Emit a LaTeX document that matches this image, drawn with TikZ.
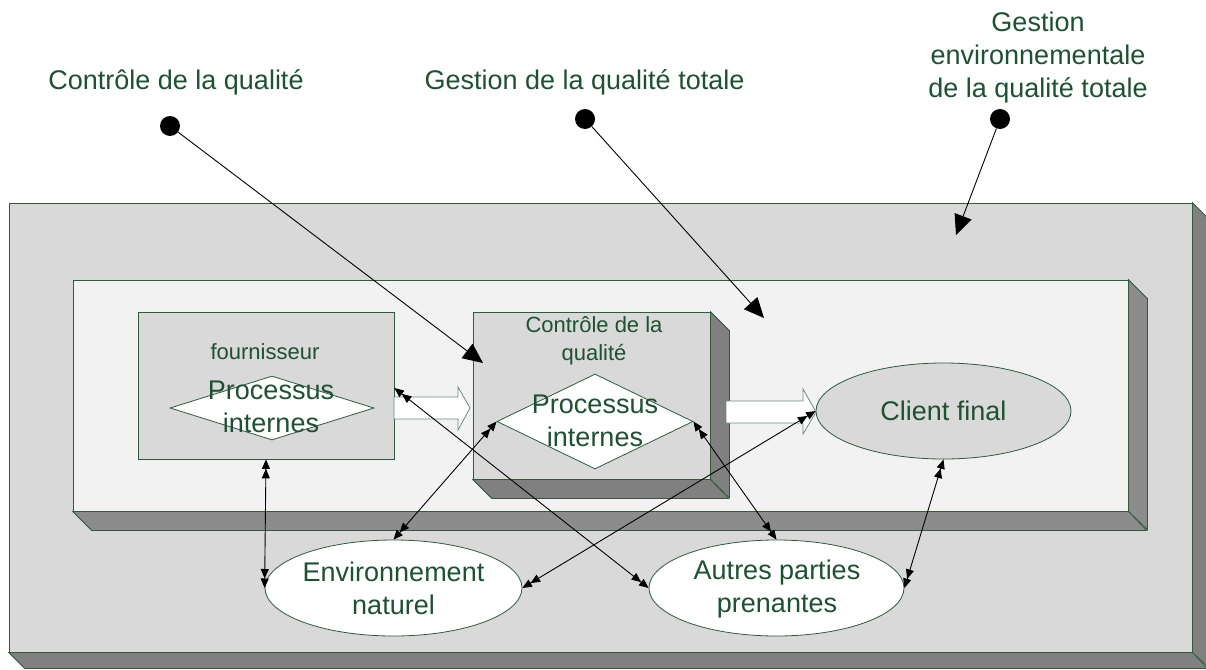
\documentclass[tikz,border=0pt]{standalone}
\usepackage{fontspec}
\setmainfont{Liberation Sans}
\usetikzlibrary{shapes.geometric,arrows.meta}
\definecolor{txt}{HTML}{1E5032}
\definecolor{edge}{HTML}{2F5A3C}
\definecolor{front}{HTML}{D9D9D9}
\definecolor{pale}{HTML}{F2F2F2}
\definecolor{sideA}{HTML}{808080}
\definecolor{sideB}{HTML}{8C8C8C}
\tikzset{
  dtip/.tip={Triangle[length=9.5pt,width=8pt]Triangle[length=9.5pt,width=8pt]},
  bigtip/.tip={Triangle[length=20pt,width=18pt]},
  face/.style={draw=edge, line width=0.8pt, inner sep=0pt, rectangle},
  sideface/.style={draw=edge, line width=0.8pt},
  lbl/.style={text=txt, font=\fontsize{27}{33}\selectfont, align=center, inner sep=0pt},
  smalllbl/.style={text=txt, font=\fontsize{22}{28}\selectfont, align=center, inner sep=0pt},
  oval/.style={ellipse, draw=edge, line width=0.8pt, inner sep=0pt},
  rhomb/.style={diamond, draw=edge, line width=0.8pt, fill=white, inner sep=0pt},
  blockarrow/.style={draw=edge!70, fill=white, line width=0.8pt},
  link/.style={line width=0.9pt, arrows={dtip-dtip}},
  pointer/.style={line width=0.9pt, arrows={-bigtip}},
  dot/.style={circle, fill=black, minimum size=20pt, inner sep=0pt}
}
\begin{document}
\begin{tikzpicture}[x=1pt,y=-1pt]
\useasboundingbox (0,0) rectangle (1206,669);
\clip (0,0) rectangle (1206,669);

% outer box
\node[face, fill=front, minimum width=1183pt, minimum height=449pt] (outer) at (600.5,427.5) {};
\filldraw[sideface, fill=sideA] (outer.north east) -- ++(16,16) -- ++(0,449) -- (outer.south east) -- cycle;
\filldraw[sideface, fill=sideA] (outer.south west) -- ++(16,16) -- ++(1183,0) -- (outer.south east) -- cycle;

% inner box
\node[face, fill=pale, minimum width=1055pt, minimum height=231pt] (inner) at (600.5,395.5) {};
\filldraw[sideface, fill=sideB] (inner.north east) -- ++(19,19) -- ++(0,231) -- (inner.south east) -- cycle;
\filldraw[sideface, fill=sideB] (inner.south west) -- ++(19,19) -- ++(1055,0) -- (inner.south east) -- cycle;

% fournisseur box
\node[face, fill=front, minimum width=256pt, minimum height=147pt] (four) at (266,385.5) {};
\node[rhomb, minimum width=204pt, minimum height=64pt] (fourdia) at (272,408) {};
\node[smalllbl] (fourlbl) at (265,352) {fournisseur};
\node[lbl] (fourproc) at (271,407) {Processus\\internes};

% controle box
\node[face, fill=front, minimum width=237pt, minimum height=167pt] (ctrl) at (591.5,395.5) {};
\filldraw[sideface, fill=sideA] (ctrl.north east) -- ++(19,19) -- ++(0,167) -- (ctrl.south east) -- cycle;
\filldraw[sideface, fill=sideA] (ctrl.south west) -- ++(19,19) -- ++(237,0) -- (ctrl.south east) -- cycle;
\node[rhomb, minimum width=196pt, minimum height=95pt] (ctrldia) at (595,421.5) {};
\node[smalllbl] (ctrllbl) at (594,341) {Contrôle de la\\qualité};
\node[lbl] (ctrlproc) at (595,420.5) {Processus\\internes};

% ellipses
\node[oval, fill=front, minimum width=255pt, minimum height=96pt] (client) at (943.5,411) {};
\node[lbl] at (client) {Client final};
\node[oval, fill=white, minimum width=257pt, minimum height=96pt] (env) at (393.5,588) {};
\node[lbl] at (393.5,588.5) {Environnement\\naturel};
\node[oval, fill=white, minimum width=255pt, minimum height=96pt] (autres) at (776.5,588) {};
\node[lbl] at (777,589) {Autres parties\\prenantes};

% block arrows
\filldraw[blockarrow] (394,397) -- (458,397) -- (458,387) -- (470,408) -- (458,430) -- (458,419) -- (394,419) -- cycle;
\filldraw[blockarrow] (726,401) -- (803,401) -- (803,389) -- (816,412) -- (803,434) -- (803,423) -- (726,423) -- cycle;

% top labels
\node[lbl] (l1) at (176,82) {Contrôle de la qualité};
\node[lbl] (l2) at (584.5,82) {Gestion de la qualité totale};
\node[lbl] (l3) at (1038,58) {Gestion\\environnementale\\de la qualité totale};

% dots and pointers
\node[dot] (d1) at (170,126) {};
\node[dot] (d2) at (585,119) {};
\node[dot] (d3) at (1000,119) {};
\coordinate (t1) at (483,363);
\coordinate (t2) at (764,318);
\coordinate (t3) at (956,235);
\draw[pointer] (d1) -- (t1);
\draw[pointer] (d2) -- (t2);
\draw[pointer] (d3) -- (t3);

% links
\draw[link] (four.south) -- (env.west);
\draw[link] (ctrldia.west) -- (env.north);
\draw[link] ([yshift=-2.5pt]four.east) -- (autres.west);
\draw[link] (ctrldia.east) -- (autres.north);
\draw[link] (client.west) -- (env.east);
\draw[link] (client.south) -- (autres.east);
\end{tikzpicture}
\end{document}
